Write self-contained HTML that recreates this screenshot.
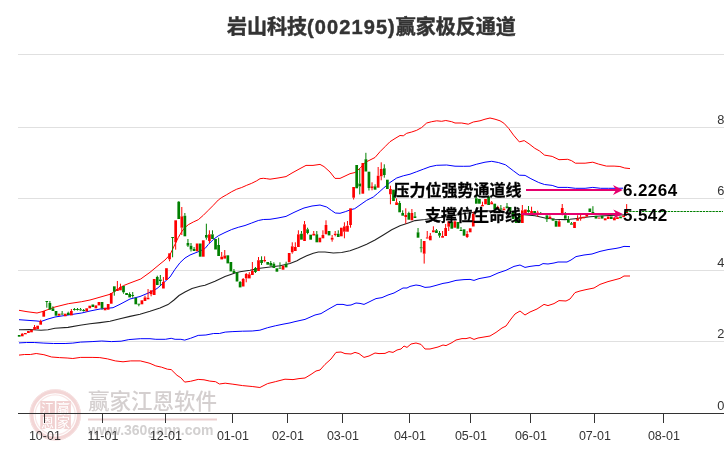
<!DOCTYPE html><html><head><meta charset="utf-8"><title>岩山科技(002195)赢家极反通道</title><style>
html,body{margin:0;padding:0;background:#fff;}body{width:726px;height:450px;overflow:hidden;position:relative}
svg{position:absolute;left:0;top:0}
.t{font-family:"Liberation Sans","Noto Sans CJK SC",sans-serif}
</style></head><body>
<svg width="726" height="450" viewBox="0 0 726 450">
<g>
<circle cx="55.2" cy="414.9" r="23.7" fill="none" stroke="#f3d6d6" stroke-width="4"/>
<circle cx="55.2" cy="414.9" r="25.3" fill="none" stroke="#f7e3e3" stroke-width="1"/>
<circle cx="55.2" cy="414.9" r="20" fill="none" stroke="#f8e6e6" stroke-width="1.2"/>
<g fill="#f1d1d1">
<rect x="40.3" y="401" width="14.6" height="12.6"/>
<rect x="56.4" y="401" width="14.5" height="12.6"/>
<rect x="40.3" y="414.4" width="14.6" height="14.7"/>
<rect x="56.4" y="414.4" width="14.5" height="14.7"/>
</g>
<g font-size="13" fill="#fff" text-anchor="middle" class="t">
<text x="47.6" y="412.6">江</text><text x="63.6" y="412.6">赢</text>
<text x="47.6" y="427.4">恩</text><text x="63.6" y="427.4">家</text></g>
<text x="88" y="409.3" font-size="21.5" font-weight="500" fill="#d4cfcf" class="t">赢家江恩软件</text>
<line x1="88" y1="419.6" x2="217" y2="419.6" stroke="#ecd0d0" stroke-width="2"/>
<text x="88" y="435.3" font-size="14" font-weight="bold" fill="#d2d0d0" class="t">www.360gann.com</text>
</g>
<line x1="18" y1="54.5" x2="724" y2="54.5" stroke="#e0e0e0" stroke-width="1"/>
<line x1="18" y1="127.5" x2="724" y2="127.5" stroke="#e0e0e0" stroke-width="1"/>
<line x1="18" y1="198.5" x2="724" y2="198.5" stroke="#e0e0e0" stroke-width="1"/>
<line x1="18" y1="270.5" x2="724" y2="270.5" stroke="#e0e0e0" stroke-width="1"/>
<line x1="18" y1="341.5" x2="724" y2="341.5" stroke="#e0e0e0" stroke-width="1"/>
<line x1="18" y1="413.5" x2="724" y2="413.5" stroke="#333" stroke-width="1"/>
<line x1="44.5" y1="413" x2="44.5" y2="423" stroke="#333" stroke-width="1"/>
<text x="44.9" y="439.8" text-anchor="middle" font-size="12.5" fill="#333" class="t">10-01</text>
<line x1="102.5" y1="413" x2="102.5" y2="423" stroke="#333" stroke-width="1"/>
<text x="102.9" y="439.8" text-anchor="middle" font-size="12.5" fill="#333" class="t">11-01</text>
<line x1="165.5" y1="413" x2="165.5" y2="423" stroke="#333" stroke-width="1"/>
<text x="165.9" y="439.8" text-anchor="middle" font-size="12.5" fill="#333" class="t">12-01</text>
<line x1="232.5" y1="413" x2="232.5" y2="423" stroke="#333" stroke-width="1"/>
<text x="232.9" y="439.8" text-anchor="middle" font-size="12.5" fill="#333" class="t">01-01</text>
<line x1="287.5" y1="413" x2="287.5" y2="423" stroke="#333" stroke-width="1"/>
<text x="287.9" y="439.8" text-anchor="middle" font-size="12.5" fill="#333" class="t">02-01</text>
<line x1="342.5" y1="413" x2="342.5" y2="423" stroke="#333" stroke-width="1"/>
<text x="342.9" y="439.8" text-anchor="middle" font-size="12.5" fill="#333" class="t">03-01</text>
<line x1="409.5" y1="413" x2="409.5" y2="423" stroke="#333" stroke-width="1"/>
<text x="409.9" y="439.8" text-anchor="middle" font-size="12.5" fill="#333" class="t">04-01</text>
<line x1="470.5" y1="413" x2="470.5" y2="423" stroke="#333" stroke-width="1"/>
<text x="470.9" y="439.8" text-anchor="middle" font-size="12.5" fill="#333" class="t">05-01</text>
<line x1="530.5" y1="413" x2="530.5" y2="423" stroke="#333" stroke-width="1"/>
<text x="530.9" y="439.8" text-anchor="middle" font-size="12.5" fill="#333" class="t">06-01</text>
<line x1="594.5" y1="413" x2="594.5" y2="423" stroke="#333" stroke-width="1"/>
<text x="594.9" y="439.8" text-anchor="middle" font-size="12.5" fill="#333" class="t">07-01</text>
<line x1="663.5" y1="413" x2="663.5" y2="423" stroke="#333" stroke-width="1"/>
<text x="663.9" y="439.8" text-anchor="middle" font-size="12.5" fill="#333" class="t">08-01</text>
<text x="724.3" y="124.2" text-anchor="end" font-size="12.8" fill="#333" class="t">8</text>
<text x="724.3" y="195.2" text-anchor="end" font-size="12.8" fill="#333" class="t">6</text>
<text x="724.3" y="267.2" text-anchor="end" font-size="12.8" fill="#333" class="t">4</text>
<text x="724.3" y="338.2" text-anchor="end" font-size="12.8" fill="#333" class="t">2</text>
<text x="724.3" y="410.2" text-anchor="end" font-size="12.8" fill="#333" class="t">0</text>
<polyline points="19.0,355.1 24.6,354.5 30.4,354.5 36.2,353.5 43.9,354.7 51.6,357.0 59.4,357.6 67.1,358.0 72.8,358.5 80.6,357.4 92.1,357.4 99.8,357.6 107.6,358.9 115.3,360.9 123.0,361.8 130.7,360.9 140.3,360.9 148.0,362.8 150.0,363.4 155.8,365.9 161.6,367.2 167.4,369.2 171.2,369.6 177.0,375.3 180.9,377.8 184.7,382.1 190.5,381.3 198.2,379.4 204.0,379.8 209.8,381.1 215.6,381.7 219.4,384.0 225.2,383.2 232.9,384.2 242.6,385.6 252.2,386.5 259.9,387.5 267.6,383.6 275.3,381.7 285.0,379.2 293.0,379.6 299.0,378.6 305.0,378.0 311.0,374.4 316.0,371.0 320.0,370.0 325.0,364.4 331.0,359.0 336.0,352.4 341.0,352.0 345.0,353.6 351.0,354.0 355.0,352.4 359.0,353.6 364.0,357.4 369.0,356.0 375.0,353.0 379.0,353.6 385.0,353.4 389.0,351.6 393.0,352.4 397.0,350.0 401.0,349.0 404.0,346.0 407.0,347.4 411.0,344.0 416.0,343.0 421.0,344.4 425.0,349.0 430.0,349.0 438.0,347.0 443.0,345.0 446.0,345.6 452.0,342.6 456.0,340.0 462.0,338.6 466.0,338.6 470.0,337.6 474.0,339.4 478.0,338.0 484.0,337.0 490.0,336.0 496.0,332.4 502.0,328.0 506.0,326.0 511.0,319.0 515.0,314.0 520.0,311.0 525.0,315.0 530.0,312.0 537.0,309.0 544.0,304.4 548.0,305.6 554.0,303.6 559.0,300.6 566.0,301.0 570.0,299.0 575.0,292.6 580.0,291.0 586.0,289.6 594.0,288.0 600.0,284.4 608.0,281.6 614.0,280.0 620.0,278.4 624.0,276.0 630.0,276.0" fill="none" stroke="#ff0000" stroke-width="1"/>
<polyline points="19.0,342.9 26.6,342.5 34.3,342.5 43.9,343.1 53.6,343.5 65.1,343.5 72.8,343.1 80.6,342.1 92.1,341.6 101.8,341.0 111.4,341.6 121.1,341.2 128.8,339.6 140.3,338.7 150.0,338.7 155.8,339.3 165.4,339.3 171.2,338.3 175.1,339.3 180.9,339.3 184.7,340.1 190.5,338.3 198.2,335.4 205.9,335.0 213.6,333.5 219.4,333.5 225.2,332.1 232.9,331.6 242.6,331.2 252.2,331.0 259.9,330.2 267.6,327.7 275.3,325.8 283.0,324.2 290.0,322.9 295.0,321.6 305.0,319.4 315.0,315.0 321.0,313.6 327.0,310.0 333.0,306.6 337.0,304.4 343.0,304.4 347.0,305.4 351.0,305.0 356.0,303.0 360.0,303.4 364.0,304.4 369.0,302.0 373.0,300.0 376.0,298.6 382.0,297.6 388.0,295.0 394.0,293.0 403.0,288.0 407.0,288.0 410.0,286.4 416.0,285.0 420.0,285.6 425.0,287.4 430.0,287.0 436.0,285.4 443.0,283.4 448.0,282.6 456.0,280.4 464.0,279.6 470.0,279.4 474.0,280.4 479.0,278.6 490.0,276.6 498.0,273.0 506.0,270.3 514.0,266.4 520.0,265.0 525.0,267.4 530.0,266.4 536.0,265.6 539.0,265.6 543.0,263.6 548.0,264.0 554.0,263.0 558.0,262.0 567.0,262.0 571.0,260.0 576.0,256.6 584.0,255.0 592.0,254.0 600.0,251.4 608.0,249.6 616.0,248.4 620.0,247.6 624.0,246.4 630.0,246.6" fill="none" stroke="#0000ff" stroke-width="1"/>
<polyline points="19.0,310.3 27.0,311.7 37.0,313.0 42.0,311.7 49.7,309.0 55.0,307.0 68.3,303.7 81.7,301.7 90.0,300.0 96.0,298.3 110.0,294.3 123.3,285.7 130.0,283.0 140.7,279.0 150.0,272.3 160.0,264.0 165.0,260.0 170.0,254.7 175.0,244.2 178.3,237.5 181.7,231.7 185.0,227.5 188.3,224.7 193.3,222.0 198.3,219.7 203.3,215.3 208.3,210.3 213.3,205.3 218.3,200.0 221.7,197.5 226.7,194.7 231.7,191.7 236.7,189.2 241.7,187.5 246.7,185.3 251.7,183.3 256.7,180.8 260.0,178.7 263.3,178.3 266.7,178.7 270.0,179.2 278.0,178.0 286.0,176.6 292.0,173.0 300.0,168.6 306.0,165.4 313.0,165.4 320.0,164.4 324.0,166.6 330.0,172.0 335.0,178.4 340.0,178.4 346.0,175.6 350.0,173.7 355.0,172.5 360.0,168.3 365.0,162.5 370.0,160.0 375.0,157.5 380.0,151.7 385.0,146.7 390.0,141.7 395.0,138.5 400.0,135.5 403.3,135.8 406.7,133.3 411.7,132.0 416.7,130.3 421.7,127.5 426.7,123.0 431.7,121.7 436.7,120.8 441.7,121.3 445.8,120.5 451.7,121.7 455.0,123.0 461.7,123.0 468.3,124.2 473.3,122.0 480.0,120.8 485.0,119.2 490.0,118.0 495.0,119.2 500.0,120.8 503.9,123.2 508.7,128.4 513.5,135.1 519.3,141.9 524.2,140.6 529.0,143.8 534.8,148.3 539.6,151.0 544.5,155.1 552.2,156.4 559.0,159.7 567.7,159.3 571.6,160.7 575.4,163.2 585.1,163.2 592.8,162.2 598.6,164.1 606.4,166.1 614.1,166.1 619.9,166.5 624.7,168.0 630.0,168.6" fill="none" stroke="#ff0000" stroke-width="1"/>
<polyline points="19.0,319.7 37.0,321.0 41.0,321.5 48.0,319.0 55.0,317.0 68.0,315.0 81.7,313.0 90.0,311.0 100.0,309.0 113.0,307.7 120.0,304.3 130.0,299.0 140.0,296.5 150.0,292.3 157.0,288.5 160.0,286.0 165.0,281.5 170.0,277.0 175.0,269.3 180.0,262.7 185.0,258.0 190.0,255.0 200.0,251.0 205.0,248.5 208.3,244.5 213.3,239.5 218.3,235.8 225.0,232.5 231.7,229.5 238.3,227.3 245.0,225.5 251.7,223.0 258.3,220.5 263.3,219.5 270.0,219.3 278.0,218.0 286.0,216.4 294.0,212.4 300.0,209.7 304.0,208.0 312.0,206.0 320.0,205.0 326.7,207.0 331.3,210.3 335.3,213.0 340.0,213.3 345.3,211.7 350.7,209.7 354.7,208.7 360.0,205.0 366.7,200.3 373.3,197.0 377.3,193.7 383.3,188.3 390.0,182.5 396.7,178.0 403.3,175.8 410.0,174.2 416.7,171.7 423.3,169.2 430.0,166.7 436.7,165.3 446.7,165.0 455.0,166.2 463.3,166.3 470.0,166.2 476.7,164.2 485.0,162.2 491.7,161.3 498.3,162.5 505.5,164.8 513.5,170.9 519.3,175.2 525.1,175.4 530.9,178.7 538.7,182.5 544.5,184.5 552.2,185.4 558.0,187.4 567.7,187.4 575.4,188.3 585.1,188.3 592.8,187.4 600.6,188.3 608.3,188.3 616.0,188.3 623.0,188.2" fill="none" stroke="#0000ff" stroke-width="1"/>
<polyline points="19.0,329.7 30.0,329.5 41.0,330.3 48.0,329.7 55.0,328.3 68.0,327.4 80.0,325.3 90.0,323.8 100.0,322.6 110.0,321.3 120.0,318.8 130.0,316.4 140.0,314.2 150.0,311.3 160.0,308.0 168.0,304.6 174.0,300.0 179.0,295.5 185.0,292.0 192.0,288.5 200.0,286.3 205.0,285.3 215.0,281.3 225.0,276.5 235.0,273.0 240.0,271.8 250.0,270.3 260.0,268.3 270.0,267.0 280.0,265.7 290.0,263.5 297.0,260.8 300.0,259.0 306.7,255.8 313.3,253.3 318.3,252.0 325.0,252.0 333.3,253.0 341.7,252.5 350.0,250.8 358.3,247.8 366.7,244.2 375.0,240.0 383.3,235.0 391.7,229.7 400.0,225.8 408.3,223.0 415.0,220.6 424.9,219.5 434.8,218.1 448.0,216.5 464.6,213.5 481.1,211.5 489.4,210.7 497.6,211.5 507.6,213.2 517.5,214.8 524.1,214.8 535.0,215.7 545.0,218.0 555.0,219.3 565.0,219.6 570.0,219.3 575.0,218.7 580.0,218.0 590.0,216.7 600.0,216.0 610.0,215.5 620.0,215.0 627.0,214.8" fill="none" stroke="#222" stroke-width="1.1"/>
<g fill="#ff0000"><rect x="20.92" y="333.7" width="2.7" height="2.6"/><rect x="23.99" y="333.0" width="2.7" height="1.3"/><rect x="27.05" y="331.0" width="2.7" height="2.0"/><rect x="30.12" y="329.7" width="2.7" height="2.6"/><rect x="33.19" y="327.0" width="2.7" height="2.7"/><rect x="36.26" y="325.7" width="2.7" height="3.3"/><rect x="39.33" y="321.0" width="2.7" height="3.7"/><rect x="42.39" y="311.0" width="2.7" height="5.7"/><rect x="57.73" y="313.7" width="2.7" height="2.0"/><rect x="63.87" y="313.7" width="2.7" height="2.6"/><rect x="70.01" y="311.0" width="2.7" height="4.4"/><rect x="85.35" y="308.3" width="2.7" height="3.1"/><rect x="88.41" y="305.7" width="2.7" height="2.6"/><rect x="94.55" y="305.4" width="2.7" height="2.9"/><rect x="97.62" y="302.0" width="2.7" height="3.4"/><rect x="103.75" y="307.7" width="2.7" height="2.6"/><rect x="106.82" y="304.0" width="2.7" height="5.7"/><rect x="109.89" y="293.0" width="2.7" height="10.7"/><rect x="116.03" y="289.0" width="2.7" height="2.0"/><rect x="119.09" y="287.0" width="2.7" height="3.3"/><rect x="140.57" y="300.3" width="2.7" height="4.0"/><rect x="143.64" y="297.4" width="2.7" height="3.6"/><rect x="146.71" y="297.7" width="2.7" height="1.6"/><rect x="149.77" y="290.3" width="2.7" height="4.0"/><rect x="152.84" y="279.0" width="2.7" height="16.0"/><rect x="162.05" y="282.0" width="2.7" height="6.5"/><rect x="165.11" y="268.2" width="2.7" height="11.8"/><rect x="168.18" y="253.3" width="2.7" height="6.0"/><rect x="174.32" y="220.3" width="2.7" height="22.0"/><rect x="180.45" y="216.3" width="2.7" height="11.4"/><rect x="195.79" y="243.5" width="2.7" height="7.8"/><rect x="201.93" y="240.3" width="2.7" height="16.4"/><rect x="208.07" y="234.3" width="2.7" height="6.7"/><rect x="220.34" y="256.7" width="2.7" height="2.7"/><rect x="223.41" y="255.5" width="2.7" height="3.1"/><rect x="241.81" y="279.0" width="2.7" height="7.5"/><rect x="244.88" y="274.0" width="2.7" height="4.4"/><rect x="247.95" y="274.3" width="2.7" height="4.1"/><rect x="251.02" y="271.0" width="2.7" height="4.0"/><rect x="257.15" y="260.2" width="2.7" height="10.8"/><rect x="263.29" y="260.0" width="2.7" height="1.3"/><rect x="281.70" y="265.7" width="2.7" height="4.0"/><rect x="287.83" y="253.0" width="2.7" height="9.3"/><rect x="290.90" y="246.3" width="2.7" height="6.0"/><rect x="293.97" y="247.0" width="2.7" height="4.0"/><rect x="297.04" y="234.3" width="2.7" height="12.7"/><rect x="303.17" y="224.3" width="2.7" height="16.7"/><rect x="312.38" y="233.7" width="2.7" height="1.8"/><rect x="318.51" y="237.7" width="2.7" height="4.6"/><rect x="321.58" y="235.0" width="2.7" height="3.3"/><rect x="324.65" y="225.0" width="2.7" height="9.3"/><rect x="330.79" y="237.7" width="2.7" height="2.0"/><rect x="333.85" y="233.7" width="2.7" height="1.3"/><rect x="339.99" y="227.7" width="2.7" height="8.6"/><rect x="343.06" y="226.3" width="2.7" height="5.4"/><rect x="346.13" y="225.7" width="2.7" height="6.0"/><rect x="349.19" y="208.3" width="2.7" height="16.7"/><rect x="352.26" y="187.0" width="2.7" height="10.7"/><rect x="361.47" y="163.0" width="2.7" height="30.7"/><rect x="370.67" y="186.3" width="2.7" height="2.0"/><rect x="376.81" y="175.7" width="2.7" height="12.0"/><rect x="379.87" y="169.0" width="2.7" height="7.3"/><rect x="389.08" y="189.0" width="2.7" height="5.3"/><rect x="395.21" y="202.3" width="2.7" height="2.7"/><rect x="404.42" y="215.0" width="2.7" height="2.0"/><rect x="410.55" y="213.0" width="2.7" height="7.3"/><rect x="422.83" y="241.0" width="2.7" height="12.7"/><rect x="425.89" y="237.4" width="2.7" height="1.1"/><rect x="428.96" y="235.7" width="2.7" height="4.6"/><rect x="432.03" y="230.3" width="2.7" height="2.0"/><rect x="441.23" y="236.0" width="2.7" height="1.7"/><rect x="444.30" y="228.0" width="2.7" height="8.0"/><rect x="447.37" y="221.3" width="2.7" height="5.4"/><rect x="453.51" y="221.3" width="2.7" height="6.4"/><rect x="465.78" y="234.0" width="2.7" height="3.0"/><rect x="468.85" y="228.3" width="2.7" height="4.0"/><rect x="471.91" y="213.7" width="2.7" height="12.8"/><rect x="481.12" y="205.0" width="2.7" height="1.3"/><rect x="484.19" y="199.0" width="2.7" height="5.3"/><rect x="490.32" y="202.3" width="2.7" height="2.0"/><rect x="496.46" y="207.0" width="2.7" height="2.0"/><rect x="502.59" y="208.7" width="2.7" height="1.6"/><rect x="521.00" y="210.3" width="2.7" height="12.7"/><rect x="524.07" y="209.5" width="2.7" height="4.5"/><rect x="530.21" y="211.0" width="2.7" height="2.2"/><rect x="536.34" y="212.5" width="2.7" height="1.0"/><rect x="548.61" y="216.7" width="2.7" height="2.0"/><rect x="557.82" y="221.3" width="2.7" height="5.4"/><rect x="560.89" y="208.0" width="2.7" height="5.3"/><rect x="573.16" y="222.0" width="2.7" height="6.0"/><rect x="576.23" y="218.7" width="2.7" height="2.0"/><rect x="579.29" y="217.3" width="2.7" height="1.4"/><rect x="582.36" y="216.7" width="2.7" height="1.6"/><rect x="585.43" y="214.0" width="2.7" height="2.7"/><rect x="597.70" y="217.6" width="2.7" height="1.0"/><rect x="603.84" y="218.3" width="2.7" height="2.0"/><rect x="606.91" y="216.5" width="2.7" height="2.5"/><rect x="613.04" y="217.6" width="2.7" height="2.7"/><rect x="616.11" y="217.2" width="2.7" height="1.8"/><rect x="622.25" y="215.5" width="2.7" height="1.7"/><rect x="625.31" y="209.0" width="2.7" height="4.0"/></g>
<path d="M22.27 333.0V333.7M34.54 325.0V327.0M40.68 319.7V321.0M71.36 309.0V311.0M117.38 281.0V289.0M120.44 283.7V287.0M144.99 295.7V297.4M148.06 289.0V297.7M151.12 294.3V296.3M163.40 277.0V282.0M169.53 259.3V261.3M175.67 242.3V249.7M181.80 207.0V216.3M181.80 227.7V235.0M209.42 230.3V234.3M209.42 241.0V243.0M221.69 252.0V256.7M224.76 250.0V255.5M243.16 278.0V279.0M246.23 273.0V274.0M246.23 278.4V282.3M249.30 272.2V274.3M252.37 262.0V271.0M258.50 257.0V260.2M264.64 256.3V260.0M264.64 261.3V262.3M292.25 242.3V246.3M292.25 252.3V253.7M295.32 242.3V247.0M298.39 230.3V234.3M304.52 221.0V224.3M313.73 231.0V233.7M322.93 230.3V235.0M326.00 220.3V225.0M332.14 235.0V237.7M332.14 239.7V241.7M335.20 231.0V233.7M335.20 235.0V236.3M344.41 222.3V226.3M344.41 231.7V238.3M347.48 221.0V225.7M350.54 225.0V227.7M353.61 197.7V199.5M372.02 182.3V186.3M372.02 188.3V190.3M378.16 167.0V175.7M381.22 162.3V169.0M381.22 176.3V180.3M390.43 185.7V189.0M390.43 194.3V204.3M396.56 198.3V202.3M405.77 208.3V215.0M405.77 217.0V223.7M411.90 209.0V213.0M424.18 253.7V263.6M427.24 231.0V237.4M430.31 233.0V235.7M433.38 226.3V230.3M442.58 231.0V236.0M445.65 224.0V228.0M448.72 226.7V231.0M454.86 220.3V221.3M467.13 231.0V234.0M467.13 237.0V238.0M473.26 211.7V213.7M482.47 201.7V205.0M491.67 201.0V202.3M497.81 205.7V207.0M503.94 207.0V208.7M522.35 205.0V210.3M531.56 206.7V211.0M537.69 210.7V212.5M537.69 213.5V216.7M549.96 215.3V216.7M559.17 220.0V221.3M562.24 204.0V208.0M562.24 213.3V215.3M577.58 215.3V218.7M580.64 214.7V217.3M580.64 218.7V220.7M586.78 213.3V214.0M626.66 204.1V209.0" stroke="#ff0000" stroke-width="1" fill="none"/>
<g fill="#008000"><rect x="17.85" y="335.0" width="2.7" height="1.7"/><rect x="45.46" y="301.0" width="2.7" height="1.0"/><rect x="48.53" y="303.0" width="2.7" height="6.7"/><rect x="51.60" y="308.3" width="2.7" height="2.7"/><rect x="54.67" y="311.0" width="2.7" height="4.7"/><rect x="60.80" y="313.5" width="2.7" height="1.0"/><rect x="66.94" y="312.7" width="2.7" height="2.3"/><rect x="73.07" y="309.0" width="2.7" height="1.0"/><rect x="76.14" y="309.0" width="2.7" height="1.0"/><rect x="79.21" y="309.3" width="2.7" height="1.0"/><rect x="82.28" y="310.0" width="2.7" height="1.0"/><rect x="91.48" y="304.5" width="2.7" height="2.5"/><rect x="100.69" y="302.0" width="2.7" height="6.3"/><rect x="112.96" y="286.3" width="2.7" height="5.4"/><rect x="122.16" y="286.0" width="2.7" height="6.3"/><rect x="125.23" y="293.0" width="2.7" height="2.0"/><rect x="128.30" y="294.0" width="2.7" height="3.4"/><rect x="131.37" y="295.0" width="2.7" height="1.0"/><rect x="134.43" y="297.7" width="2.7" height="6.6"/><rect x="137.50" y="303.7" width="2.7" height="1.0"/><rect x="155.91" y="277.0" width="2.7" height="8.0"/><rect x="158.98" y="279.5" width="2.7" height="1.5"/><rect x="171.25" y="237.0" width="2.7" height="1.0"/><rect x="177.39" y="201.7" width="2.7" height="17.3"/><rect x="183.52" y="215.7" width="2.7" height="20.6"/><rect x="186.59" y="243.0" width="2.7" height="2.7"/><rect x="189.66" y="245.7" width="2.7" height="3.8"/><rect x="192.73" y="249.0" width="2.7" height="2.0"/><rect x="198.86" y="243.5" width="2.7" height="13.2"/><rect x="205.00" y="235.0" width="2.7" height="2.7"/><rect x="211.13" y="234.3" width="2.7" height="4.7"/><rect x="214.20" y="239.0" width="2.7" height="10.5"/><rect x="217.27" y="245.0" width="2.7" height="11.0"/><rect x="226.47" y="255.3" width="2.7" height="8.1"/><rect x="229.54" y="262.0" width="2.7" height="9.4"/><rect x="232.61" y="271.0" width="2.7" height="2.0"/><rect x="235.68" y="272.3" width="2.7" height="9.2"/><rect x="238.75" y="282.0" width="2.7" height="5.4"/><rect x="254.09" y="268.0" width="2.7" height="4.0"/><rect x="260.22" y="260.0" width="2.7" height="3.0"/><rect x="266.36" y="262.0" width="2.7" height="2.7"/><rect x="269.43" y="263.0" width="2.7" height="2.7"/><rect x="272.49" y="263.7" width="2.7" height="4.3"/><rect x="275.56" y="268.3" width="2.7" height="3.4"/><rect x="278.63" y="267.7" width="2.7" height="1.0"/><rect x="284.77" y="263.7" width="2.7" height="3.7"/><rect x="300.11" y="233.7" width="2.7" height="6.0"/><rect x="306.24" y="229.3" width="2.7" height="3.7"/><rect x="309.31" y="234.7" width="2.7" height="5.0"/><rect x="315.45" y="234.3" width="2.7" height="8.0"/><rect x="327.72" y="231.0" width="2.7" height="4.4"/><rect x="336.92" y="233.7" width="2.7" height="3.3"/><rect x="355.33" y="165.0" width="2.7" height="23.3"/><rect x="358.40" y="183.5" width="2.7" height="3.0"/><rect x="364.53" y="159.2" width="2.7" height="12.3"/><rect x="367.60" y="171.7" width="2.7" height="16.3"/><rect x="373.74" y="186.3" width="2.7" height="3.4"/><rect x="382.94" y="168.3" width="2.7" height="6.7"/><rect x="386.01" y="179.7" width="2.7" height="9.3"/><rect x="392.15" y="189.7" width="2.7" height="11.3"/><rect x="398.28" y="203.0" width="2.7" height="9.3"/><rect x="401.35" y="213.0" width="2.7" height="2.7"/><rect x="407.49" y="213.0" width="2.7" height="6.7"/><rect x="413.62" y="216.3" width="2.7" height="1.7"/><rect x="416.69" y="232.3" width="2.7" height="5.4"/><rect x="419.76" y="247.3" width="2.7" height="1.0"/><rect x="435.10" y="230.3" width="2.7" height="2.7"/><rect x="438.17" y="233.0" width="2.7" height="2.7"/><rect x="450.44" y="222.0" width="2.7" height="6.7"/><rect x="456.57" y="222.0" width="2.7" height="6.7"/><rect x="459.64" y="230.0" width="2.7" height="1.0"/><rect x="462.71" y="229.3" width="2.7" height="6.4"/><rect x="474.98" y="198.3" width="2.7" height="5.4"/><rect x="478.05" y="199.0" width="2.7" height="4.7"/><rect x="487.25" y="196.3" width="2.7" height="8.7"/><rect x="493.39" y="203.7" width="2.7" height="5.3"/><rect x="499.53" y="208.3" width="2.7" height="1.4"/><rect x="505.66" y="206.3" width="2.7" height="2.0"/><rect x="508.73" y="207.0" width="2.7" height="4.7"/><rect x="511.80" y="211.7" width="2.7" height="7.3"/><rect x="514.87" y="217.0" width="2.7" height="6.0"/><rect x="517.93" y="214.3" width="2.7" height="8.7"/><rect x="527.14" y="210.0" width="2.7" height="2.0"/><rect x="533.27" y="211.0" width="2.7" height="2.0"/><rect x="539.41" y="213.0" width="2.7" height="1.0"/><rect x="542.48" y="213.5" width="2.7" height="1.0"/><rect x="545.55" y="215.3" width="2.7" height="4.0"/><rect x="551.68" y="218.7" width="2.7" height="2.0"/><rect x="554.75" y="220.7" width="2.7" height="6.0"/><rect x="563.95" y="215.3" width="2.7" height="3.4"/><rect x="567.02" y="220.0" width="2.7" height="2.7"/><rect x="570.09" y="223.3" width="2.7" height="1.4"/><rect x="588.50" y="208.5" width="2.7" height="3.5"/><rect x="591.57" y="212.0" width="2.7" height="1.0"/><rect x="594.63" y="215.8" width="2.7" height="2.8"/><rect x="600.77" y="215.8" width="2.7" height="2.8"/><rect x="609.97" y="216.5" width="2.7" height="2.5"/><rect x="619.18" y="216.5" width="2.7" height="1.8"/></g>
<path d="M46.81 302.0V307.7M49.88 301.0V303.0M52.95 306.3V308.3M62.15 311.0V313.5M62.15 314.5V315.0M68.29 311.7V312.7M74.42 308.0V309.0M74.42 310.0V310.5M77.49 308.0V309.0M77.49 310.0V310.5M80.56 308.0V309.3M80.56 310.3V311.0M83.63 309.0V310.0M83.63 311.0V311.5M102.04 308.3V309.7M114.31 291.7V295.7M123.51 292.3V293.7M129.65 292.3V294.0M132.72 292.0V295.0M132.72 296.0V297.7M138.85 304.5V306.3M157.26 275.7V277.0M160.33 275.0V279.5M160.33 281.0V286.0M172.60 238.0V257.3M178.74 201.0V201.7M184.87 213.0V215.7M187.94 239.0V243.0M187.94 245.7V247.0M191.01 243.0V245.7M191.01 249.5V251.5M194.08 247.0V249.0M206.35 223.7V235.0M206.35 237.7V239.7M212.48 230.3V234.3M218.62 237.7V245.0M233.96 269.0V271.0M240.10 281.0V282.0M255.44 267.0V268.0M255.44 272.0V273.0M261.57 256.3V260.0M261.57 263.0V265.0M270.78 261.0V263.0M270.78 265.7V266.3M273.84 262.3V263.7M279.98 262.3V267.7M286.12 261.7V263.7M301.46 231.0V233.7M307.59 227.7V229.3M307.59 233.0V234.3M316.80 231.0V234.3M338.27 230.3V233.7M359.75 168.5V183.5M359.75 186.5V194.4M365.88 152.8V159.2M368.95 188.0V190.5M375.09 184.3V186.3M384.29 164.3V168.3M384.29 175.0V177.7M399.63 201.0V203.0M402.70 210.3V213.0M408.84 211.7V213.0M414.97 212.0V216.3M418.04 228.0V232.3M421.11 239.0V247.3M421.11 248.3V252.4M436.45 229.0V230.3M439.52 231.0V233.0M439.52 235.7V237.7M460.99 227.0V230.0M476.33 195.7V198.3M500.88 205.0V208.3M507.01 203.0V206.3M528.49 206.0V210.0M528.49 212.0V212.7M540.76 212.0V213.0M546.90 219.3V222.0M565.30 212.0V215.3M568.37 216.0V220.0M571.44 222.0V223.3M592.92 206.2V212.0" stroke="#008000" stroke-width="1" fill="none"/>
<line x1="626" y1="211.5" x2="723" y2="211.5" stroke="#008000" stroke-width="1" stroke-dasharray="2.4,0.8"/>
<line x1="526" y1="190" x2="617" y2="190" stroke="#e6006e" stroke-width="2"/>
<path d="M622.8 190 L613 185 L616 190 L613 195 Z" fill="#e6006e"/>
<line x1="521.5" y1="214" x2="617" y2="214" stroke="#e6006e" stroke-width="2"/>
<path d="M623 214 L613.3 209.4 L616.2 214 L613.3 218.6 Z" fill="#e6006e"/>
<text x="393.5" y="196.1" font-size="16" font-weight="bold" fill="#000" stroke="#000" stroke-width="0.3" class="t">压力位强势通道线</text>
<text x="425" y="221.4" font-size="16" font-weight="bold" fill="#000" stroke="#000" stroke-width="0.3" class="t">支撑位生命线</text>
<text x="622.9" y="195.8" font-size="17" font-weight="bold" fill="#000" letter-spacing="0.45" class="t">6.2264</text>
<text x="622.9" y="221.1" font-size="17" font-weight="bold" fill="#000" letter-spacing="0.45" class="t">5.542</text>
<text x="227" y="33.6" font-size="20" font-weight="bold" fill="#333" stroke="#333" stroke-width="0.45" class="t">岩山科技<tspan letter-spacing="1.1">(002195)</tspan>赢家极反通道</text>
</svg></body></html>
